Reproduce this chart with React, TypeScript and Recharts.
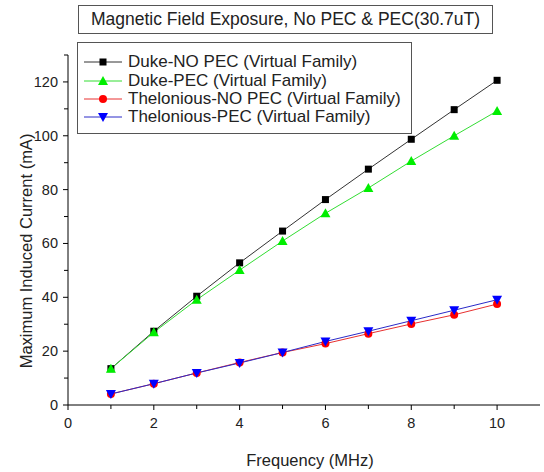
import { LineChart, Line, XAxis, YAxis } from 'recharts';

const FREQUENCY = [1, 2, 3, 4, 5, 6, 7, 8, 9, 10];
const DUKE_NO_PEC = [13.5, 27.4, 40.4, 52.8, 64.6, 76.3, 87.6, 98.7, 109.7, 120.6];
const DUKE_PEC = [13.5, 27.0, 39.1, 50.1, 60.9, 71.2, 80.6, 90.6, 100.0, 109.2];
const THEL_NO_PEC = [4.1, 7.9, 11.9, 15.8, 19.5, 22.8, 26.5, 30.1, 33.5, 37.5];
const THEL_PEC = [4.1, 7.9, 11.9, 15.6, 19.5, 23.6, 27.4, 31.3, 35.2, 39.1];

const X_TICKS = [0, 1, 2, 3, 4, 5, 6, 7, 8, 9, 10];
const Y_TICKS = [0, 10, 20, 30, 40, 50, 60, 70, 80, 90, 100, 110, 120, 130];

const TITLE = 'Magnetic Field Exposure, No PEC & PEC(30.7uT)';
const X_LABEL = 'Frequency (MHz)';
const Y_LABEL = 'Maximum Induced Current (mA)';

const FONT = '"Liberation Sans", Arial, sans-serif';

type Shape = 'square' | 'triangle' | 'circle' | 'down';

const SERIES: { key: string; name: string; marker: string; line: string; shape: Shape }[] = [
    { key: 'dukeNo', name: 'Duke-NO PEC (Virtual Family)', marker: '#000000', line: '#333333', shape: 'square' },
    { key: 'dukePec', name: 'Duke-PEC (Virtual Family)', marker: '#00ee00', line: '#33dd33', shape: 'triangle' },
    { key: 'thelNo', name: 'Thelonious-NO PEC (Virtual Family)', marker: '#ff0000', line: '#e83030', shape: 'circle' },
    { key: 'thelPec', name: 'Thelonious-PEC (Virtual Family)', marker: '#0000ff', line: '#2a2ac8', shape: 'down' },
];

const data = FREQUENCY.map((f, i) => ({
    f,
    dukeNo: DUKE_NO_PEC[i],
    dukePec: DUKE_PEC[i],
    thelNo: THEL_NO_PEC[i],
    thelPec: THEL_PEC[i],
}));

function Marker({ shape, cx, cy, color }: { shape: Shape; cx: number; cy: number; color: string }) {
    if (shape === 'square') {
        return <rect x={cx - 3.5} y={cy - 3.5} width={7} height={7} fill={color} />;
    }
    if (shape === 'circle') {
        return <circle cx={cx} cy={cy} r={4} fill={color} />;
    }
    if (shape === 'triangle') {
        return <polygon points={`${cx},${cy - 5} ${cx - 5},${cy + 4} ${cx + 5},${cy + 4}`} fill={color} />;
    }
    return <polygon points={`${cx},${cy + 5} ${cx - 5},${cy - 4} ${cx + 5},${cy - 4}`} fill={color} />;
}

function XTick(props: any) {
    const { x, y, payload } = props;
    const major = payload.value % 2 === 0;
    return (
        <g>
            <line x1={x} y1={y} x2={x} y2={y + (major ? 5 : 4)} stroke="#000" />
            {major && (
                <text x={x} y={y + 23} textAnchor="middle" fontSize={14.5} fontFamily={FONT} fill="#222">
                    {payload.value}
                </text>
            )}
        </g>
    );
}

function YTick(props: any) {
    const { x, y, payload } = props;
    const major = payload.value % 20 === 0;
    return (
        <g>
            <line x1={x - (major ? 5 : 4)} y1={y} x2={x} y2={y} stroke="#000" />
            {major && (
                <text x={x - 10} y={y + 5} textAnchor="end" fontSize={14.5} fontFamily={FONT} fill="#222">
                    {payload.value}
                </text>
            )}
        </g>
    );
}

export default function App() {
    return (
        <div style={{ position: 'absolute', left: 0, top: 0, width: 544, height: 472, background: '#fff', fontFamily: FONT }}>
            <LineChart width={544} height={472} data={data} margin={{ top: 55, right: 4, bottom: 37, left: 8 }}>
                <XAxis
                    type="number"
                    dataKey="f"
                    domain={[0, 11]}
                    ticks={X_TICKS}
                    interval={0}
                    tick={<XTick />}
                    tickLine={false}
                    tickSize={0}
                    tickMargin={0}
                    height={30}
                    stroke="#000"
                    allowDataOverflow
                />
                <YAxis
                    type="number"
                    domain={[0, 130]}
                    ticks={Y_TICKS}
                    interval={0}
                    tick={<YTick />}
                    tickLine={false}
                    tickSize={0}
                    tickMargin={0}
                    width={60}
                    stroke="#000"
                    allowDataOverflow
                />
                {SERIES.map((s) => (
                    <Line
                        key={s.key}
                        dataKey={s.key}
                        name={s.name}
                        type="linear"
                        stroke={s.line}
                        strokeWidth={1}
                        isAnimationActive={false}
                        dot={(p: any) => (
                            <Marker key={`${s.key}-${p.index}`} shape={s.shape} cx={p.cx} cy={p.cy} color={s.marker} />
                        )}
                        activeDot={false}
                    />
                ))}
                <text x={310} y={466} textAnchor="middle" fontSize={16.5} fontFamily={FONT} fill="#222">
                    {X_LABEL}
                </text>
                <text
                    x={32}
                    y={251}
                    textAnchor="middle"
                    fontSize={16.5}
                    fontFamily={FONT}
                    fill="#222"
                    transform="rotate(-90, 32, 251)"
                >
                    {Y_LABEL}
                </text>
            </LineChart>

            {/* title box */}
            <div
                style={{
                    position: 'absolute', left: 78, top: 5, width: 415, height: 29, boxSizing: 'border-box',
                    border: '1px solid #555', background: '#fff', fontSize: 17.5, color: '#222',
                    display: 'flex', alignItems: 'center', justifyContent: 'center',
                }}
            >
                {TITLE}
            </div>

            {/* legend box */}
            <div
                style={{
                    position: 'absolute', left: 77, top: 42, width: 335, height: 92, boxSizing: 'border-box',
                    border: '1px solid #555', background: '#fff', paddingTop: 10,
                }}
            >
                {SERIES.map((s) => (
                    <div key={s.key} style={{ display: 'flex', alignItems: 'center', height: 18.4 }}>
                        <svg width={50} height={18} style={{ flexShrink: 0 }}>
                            <line x1={6} y1={9} x2={44} y2={9} stroke={s.line} strokeWidth={1} />
                            <Marker shape={s.shape} cx={25} cy={9} color={s.marker} />
                        </svg>
                        <span style={{ fontSize: 17, color: '#222', whiteSpace: 'nowrap' }}>{s.name}</span>
                    </div>
                ))}
            </div>
        </div>
    );
}
